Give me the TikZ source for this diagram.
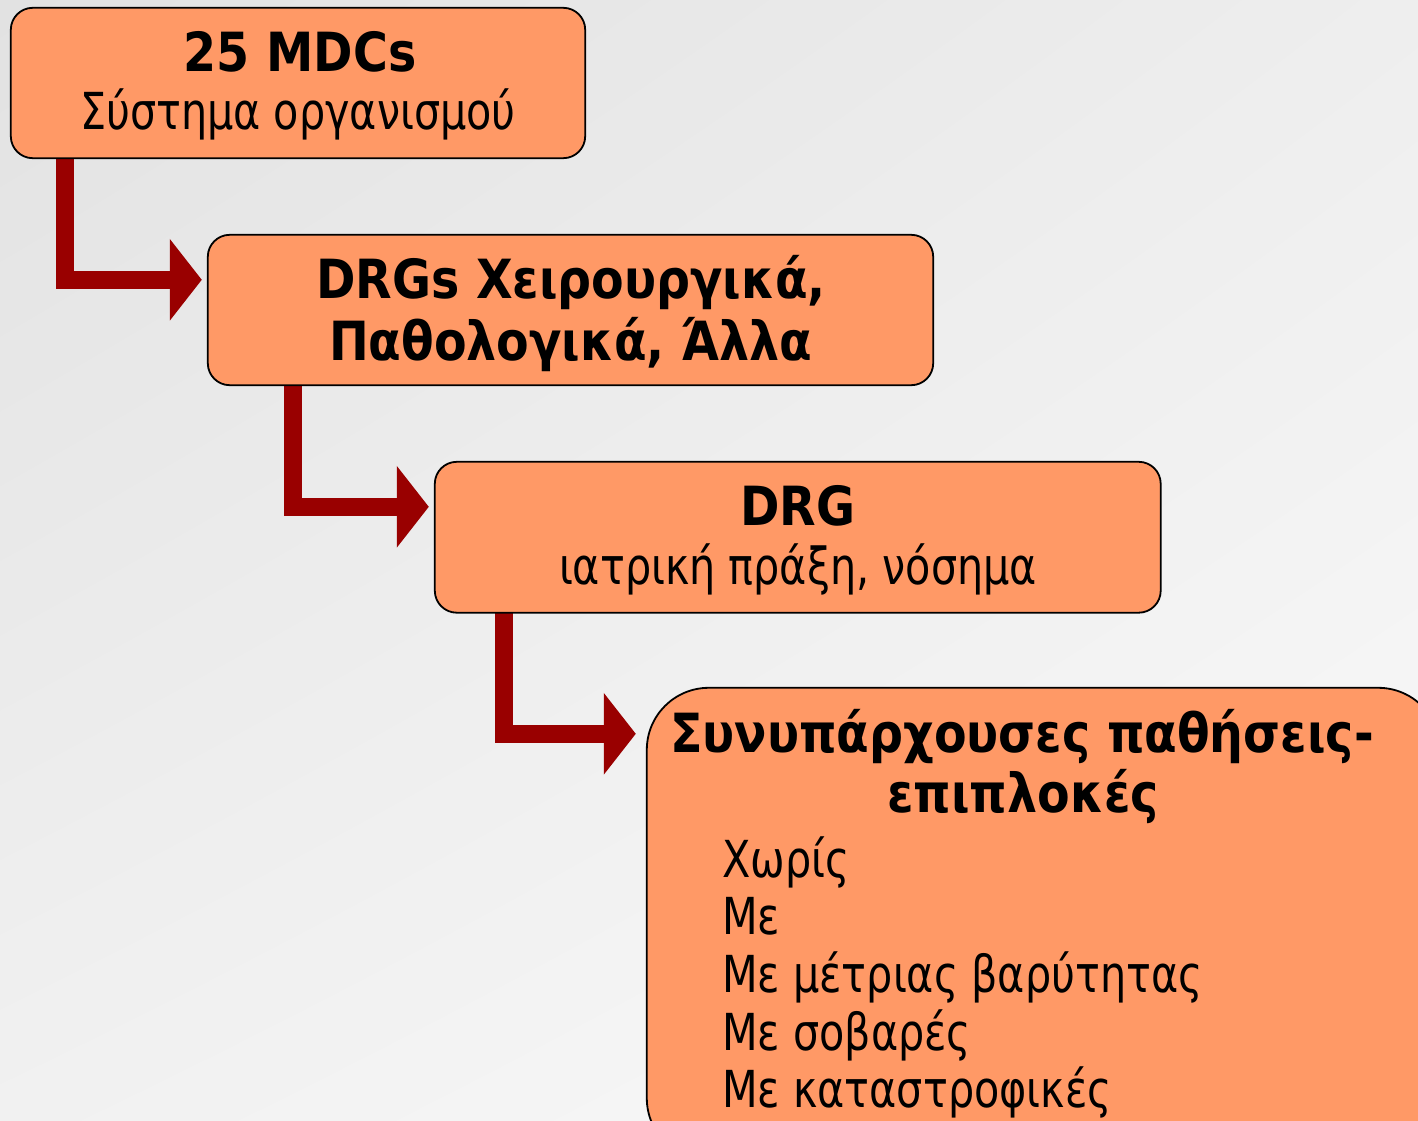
\documentclass[tikz,border=0pt]{standalone}
\usepackage{fontspec}
\setmainfont{DejaVu Sans}[FakeStretch=0.81]
\newfontfamily\regf{DejaVu Sans}[FakeStretch=0.81]
\newfontfamily\boldf{DejaVu Sans}[FakeStretch=0.88]
\usetikzlibrary{arrows.meta,calc,shadings}
\definecolor{boxfill}{HTML}{FF9966}
\definecolor{arrowred}{HTML}{990000}
\definecolor{bgA}{HTML}{E2E2E2}
\definecolor{bgB}{HTML}{EEEEEE}
\definecolor{bgC}{HTML}{F1F1F1}
\definecolor{bgD}{HTML}{FAFAFA}
\tikzset{
  box/.style={draw=black, line width=1.8pt, fill=boxfill, rounded corners=22pt, inner sep=0pt},
  conn/.style={draw=arrowred, line width=18pt, line join=miter, line cap=butt,
    -{Triangle[length=32pt, width=80pt]}},
  bold/.style={font=\boldf\bfseries\fontsize{54}{60}\selectfont, inner sep=0pt, anchor=base},
  reg/.style={font=\regf\fontsize{51}{58}\selectfont, inner sep=0pt, anchor=base},
  item/.style={font=\regf\fontsize{51}{58}\selectfont, inner sep=0pt, anchor=base west},
}
\begin{document}
\begin{tikzpicture}[x=1pt, y=-1pt]
\useasboundingbox (0,0) rectangle (1418,1121);
\clip (0,0) rectangle (1418,1121);
\shade[upper left=bgA, upper right=bgB, lower left=bgC, lower right=bgD] (0,0) rectangle (1418,1121);

% boxes (empty nodes give the anchors)
\path (298,83) node[minimum width=574pt, minimum height=150pt] (b1) {};
\path (570.5,310) node[minimum width=725pt, minimum height=150pt] (b2) {};
\path (797.75,537.25) node[minimum width=725.5pt, minimum height=150.5pt] (b3) {};
\path (1043.5,924) node[minimum width=793pt, minimum height=472pt] (b4) {};

% connectors
\draw[conn] ($(b1.south west)+(54,0)$) |- ($(b2.north west)+(-6,45)$);
\draw[conn] ($(b2.south west)+(85,0)$) |- ($(b3.north west)+(-6,45)$);
\draw[conn] ($(b3.south west)+(69,0)$) |- ($(b4.north west)+(-11,46)$);

% box shapes
\draw[box] (b1.north west) rectangle (b1.south east);
\draw[box] (b2.north west) rectangle (b2.south east);
\draw[box] (b3.north west) rectangle (b3.south east);
\draw[box, rounded corners=62pt] (b4.north west) rectangle (b4.south east);

% texts
\node[bold] (t1a) at (300,72) {25 MDCs};
\node[reg] (t1b) at (298,130) {Σύστημα οργανισμού};
\node[bold] (t2a) at (571,298) {DRGs Χειρουργικά,};
\node[bold] (t2b) at (570.5,360) {Παθολογικά, Άλλα};
\node[bold] (t3a) at (798,525) {DRG};
\node[reg] (t3b) at (798,584) {ιατρική πράξη, νόσημα};
\node[bold] (t4a) at (1022,752) {Συνυπάρχουσες παθήσεις-};
\node[bold] (t4b) at (1023,812) {επιπλοκές};
\node[item] (i1) at (722,877) {Χωρίς};
\node[item] (i2) at (722,934.5) {Με};
\node[item] (i3) at (722,992) {Με μέτριας βαρύτητας};
\node[item] (i4) at (722,1050) {Με σοβαρές};
\node[item] (i5) at (722,1107.5) {Με καταστροφικές};
\end{tikzpicture}
\end{document}
